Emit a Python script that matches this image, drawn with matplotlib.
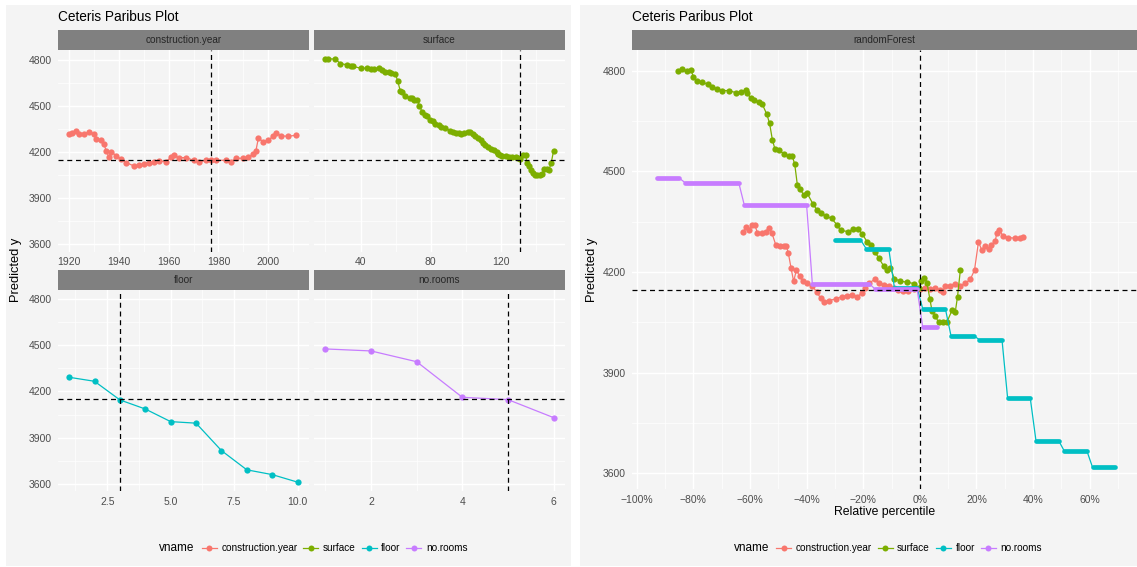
import matplotlib
matplotlib.use('Agg')
import matplotlib.pyplot as plt
from matplotlib.patches import Rectangle
from matplotlib.lines import Line2D
import numpy as np

plt.rcParams['font.family'] = ['Liberation Sans', 'DejaVu Sans']

# ---- data ----
vnames = ['construction.year', 'surface', 'floor', 'no.rooms']
colors = ['#F8766D', '#7CAE00', '#00BFC4', '#C77CFF']

pred_y = 4148
obs = {'construction.year': 1977, 'surface': 131, 'floor': 3, 'no.rooms': 5}

cy_x = [1920, 1921, 1923, 1924, 1926, 1928, 1930, 1931, 1933, 1934, 1935, 1936, 1937,
        1939, 1941, 1943, 1946, 1948, 1950, 1952, 1954, 1956, 1959, 1961, 1962, 1964,
        1967, 1970, 1972, 1975, 1977, 1979, 1983, 1985, 1987, 1990, 1992, 1994, 1995,
        1996, 1998, 2000, 2002, 2003, 2005, 2008, 2011]
cy_y = [4315, 4326, 4336, 4315, 4315, 4330, 4315, 4282, 4276, 4250, 4206, 4167, 4202,
        4174, 4152, 4131, 4109, 4115, 4120, 4131, 4135, 4141, 4137, 4167, 4178, 4163,
        4163, 4146, 4135, 4146, 4150, 4146, 4146, 4135, 4159, 4159, 4167, 4185, 4206,
        4289, 4267, 4276, 4304, 4326, 4304, 4302, 4308]

surf_x = [20, 21.5, 25.7, 28.5, 32.2, 34.3, 36, 40, 43.6, 45.7, 47.4, 50.5, 52.5, 54.1,
          56, 57.5, 59.8, 61.2, 62.6, 63.5, 65.5, 68, 69.4, 70.7, 72.2, 73.6, 75, 76.5,
          78, 79.6, 81.4, 82.5, 84.6, 86, 88.4, 91, 92.5, 94.5, 96, 97.5, 99, 101.3,
          102.3, 104, 105.5, 107, 108.4, 109.8, 111.2, 112.7, 114.1, 115.8, 117.5,
          118.3, 119.5, 120.8, 123, 124.6, 126.5, 128.4, 130, 131, 132.7, 134.1, 134.8,
          136, 137.2, 138.5, 139.5, 140.8, 142, 143.6, 144.5, 146, 147.4, 148.6, 150]
surf_y = [4803, 4805, 4803, 4774, 4766, 4759, 4755, 4744, 4744, 4738, 4737, 4742, 4729,
          4722, 4716, 4711, 4709, 4660, 4599, 4588, 4562, 4552, 4549, 4536, 4540, 4500,
          4462, 4441, 4434, 4405, 4400, 4380, 4375, 4365, 4358, 4338, 4328, 4322, 4321,
          4319, 4321, 4330, 4332, 4318, 4305, 4292, 4278, 4255, 4245, 4232, 4220, 4210,
          4200, 4185, 4178, 4174, 4175, 4170, 4168, 4165, 4160, 4152, 4181, 4180, 4130,
          4110, 4080, 4062, 4052, 4048, 4050, 4056, 4090, 4088, 4085, 4127, 4207]

floor_x = [1, 2, 3, 4, 5, 6, 7, 8, 9, 10]
floor_y = [4292, 4266, 4145, 4086, 4004, 3994, 3816, 3691, 3660, 3611]

rooms_x = [1, 2, 3, 4, 5, 6]
rooms_y = [4476, 4463, 4393, 4162, 4147, 4030]

# right plot: relative percentile
cy_pct = [-62.4, -61.3, -60.4, -59.3, -58.3, -57.4, -55.7, -54.5, -53.4, -52.3, -50.9,
          -49.5, -48, -47.2, -46.5, -45.5, -44.6, -43.6, -42.5, -41.2, -39.8, -38, -36.3,
          -35.1, -33.9, -32.2, -29.8, -27.5, -25.7, -24, -22.2, -20.4, -19.4, -18, -16,
          -14.5, -12.8, -11, -9.3, -7.6, -5.8, -4.1, -2.2, 0.1, 1.8, 3.6, 5.4, 7.1, 8.1,
          9, 10.7, 12.5, 14.3, 16, 17.8, 19.3, 20.7, 21.9, 23.1, 24.3, 25.3, 26.6, 27.2,
          28.1, 29.3, 31.2, 33.6, 35.3, 36.5]
cy_pct_y = [4319, 4335, 4326, 4340, 4341, 4317, 4316, 4320, 4331, 4317, 4281, 4279, 4279,
            4278, 4258, 4212, 4172, 4207, 4187, 4172, 4167, 4158, 4140, 4122, 4112, 4115,
            4120, 4127, 4130, 4133, 4127, 4137, 4152, 4167, 4178, 4167, 4163, 4160, 4152,
            4147, 4145, 4143, 4150, 4150, 4152, 4150, 4152, 4146, 4140, 4160, 4160, 4166,
            4158, 4167, 4178, 4206, 4290, 4265, 4279, 4269, 4282, 4292, 4317, 4325, 4309,
            4303, 4301, 4302, 4305]

surf_pct = [-85.3, -83.9, -82.4, -80.9, -80.0, -78.6, -76.8, -75.0, -73.3, -71.5, -69.8,
            -67.4, -65.1, -63.3, -61.5, -60.9, -59.8, -58.6, -56.9, -55.7, -54.1, -53.1,
            -52.1, -51.2, -49.9, -48.0, -46.3, -45.1, -44.2, -43.3, -42.3, -41.1, -39.8,
            -37.7, -36.4, -34.8, -33.0, -31.2, -29.3, -28.0, -25.4, -23.6, -21.8, -20.4,
            -18.6, -17.3, -16.0, -14.5, -12.8, -11.6, -10.4, -9.0, -6.9, -4.5, -2.2, -0.4,
            0.5, 1.6, 2.5, 3.5, 4.3, 5.5, 6.6, 8.2, 9.6, 11.4, 12.5, 13.3, 14.3]
surf_pct_y = [4800, 4805, 4798, 4803, 4782, 4769, 4766, 4760, 4752, 4745, 4741, 4741, 4735,
              4737, 4743, 4733, 4718, 4713, 4708, 4701, 4671, 4644, 4594, 4567, 4563, 4553,
              4545, 4547, 4521, 4461, 4447, 4431, 4435, 4402, 4386, 4375, 4366, 4360, 4341,
              4324, 4321, 4327, 4328, 4314, 4290, 4280, 4261, 4242, 4218, 4206, 4213, 4180,
              4173, 4170, 4166, 4154, 4173, 4183, 4169, 4121, 4084, 4069, 4050, 4050, 4052,
              4087, 4081, 4127, 4206]

# step series: constant level between first and last percentile
floor_lvl = [4297, 4270, 4154, 4091, 4010, 3999, 3824, 3698, 3667, 3618]
floor_from = [-30, -19, -9, 1, 11, 21, 31, 41, 51, 61]
floor_to = [-21, -11, -1, 9, 19, 29, 39, 49, 59, 69]

rooms_lvl = [4480, 4467, 4399, 4166, 4151, 4036]
rooms_from = [-93, -83, -62, -38, -16, 1]
rooms_to = [-85, -64, -40, -18, -1, 6]

# ---- styling ----
W, H = 1137, 567
BG = '#f4f4f4'
STRIP = '#808080'
YLIM = (3553.5, 4862)
YMAJ = [3600, 3900, 4200, 4500, 4800]
YMIN = [3750, 4050, 4350, 4650]
DASH = (0, (4, 3))

fig = plt.figure(figsize=(W / 100, H / 100), dpi=100)


def rect(x0, y0, x1, y1):
    return [x0 / W, 1 - y1 / H, (x1 - x0) / W, (y1 - y0) / H]


def fig_rect(x0, y0, x1, y1, color):
    fig.add_artist(Rectangle((x0 / W, 1 - y1 / H), (x1 - x0) / W, (y1 - y0) / H,
                             transform=fig.transFigure, color=color, lw=0, zorder=0))


def strip(x0, y0, x1, y1, label):
    fig_rect(x0, y0, x1, y1, STRIP)
    fig.text((x0 + x1) / 2 / W, 1 - (y0 + y1) / 2 / H, label, ha='center', va='center',
             fontsize=7.2, color='#262626')


def style(ax, xlim, xmaj, xmin, xlabels, show_y=True):
    ax.set_facecolor(BG)
    for s in ax.spines.values():
        s.set_visible(False)
    ax.set_xlim(xlim)
    ax.set_ylim(YLIM)
    ax.set_xticks(xmaj)
    ax.set_xticklabels(xlabels)
    ax.set_xticks(xmin, minor=True)
    ax.set_yticks(YMAJ)
    ax.set_yticks(YMIN, minor=True)
    ax.grid(which='major', color='white', lw=1.0)
    ax.grid(which='minor', color='white', lw=0.5)
    ax.set_axisbelow(True)
    ax.tick_params(which='both', length=0, labelsize=7.5, labelcolor='#4d4d4d', pad=4)
    if not show_y:
        ax.tick_params(labelleft=False)


def series(ax, x, y, c):
    ax.plot(x, y, '-', color=c, lw=0.9, zorder=3)
    ax.plot(x, y, 'o', color=c, ms=4.5, mew=0, zorder=3)


def steps(ax, lvl, a, b, c):
    xs = np.column_stack([a, b]).ravel()
    ys = np.repeat(lvl, 2)
    ax.plot(xs, ys, '-', color=c, lw=0.9, zorder=3)
    for v, x0, x1 in zip(lvl, a, b):
        ax.plot([x0, x1], [v, v], '-', color=c, lw=3.4, solid_capstyle='round', zorder=3)


def guides(ax, xv):
    ax.axhline(pred_y, color='black', lw=0.9, ls=DASH, zorder=5)
    ax.axvline(xv, color='black', lw=0.9, ls=DASH, zorder=5)


# backgrounds
fig_rect(6, 5, 570.7, 566, BG)
fig_rect(580, 5, 1137, 566, BG)

# ---- left: faceted plot ----
ax1 = fig.add_axes(rect(57.7, 50, 309, 251.5))
style(ax1, (1915.46, 2016.33), [1920, 1940, 1960, 1980, 2000], [1930, 1950, 1970, 1990, 2010],
      ['1920', '1940', '1960', '1980', '2000'])
series(ax1, cy_x, cy_y, colors[0])
guides(ax1, obs['construction.year'])

ax2 = fig.add_axes(rect(314, 50, 565, 251.5))
style(ax2, (13.5, 156.5), [40, 80, 120], [20, 60, 100, 140], ['40', '80', '120'], show_y=False)
series(ax2, surf_x, surf_y, colors[1])
guides(ax2, obs['surface'])

ax3 = fig.add_axes(rect(57.7, 289.5, 309, 491))
style(ax3, (0.55, 10.45), [2.5, 5.0, 7.5, 10.0], [1.25, 3.75, 6.25, 8.75],
      ['2.5', '5.0', '7.5', '10.0'])
series(ax3, floor_x, floor_y, colors[2])
guides(ax3, obs['floor'])

ax4 = fig.add_axes(rect(314, 289.5, 565, 491))
style(ax4, (0.75, 6.25), [2, 4, 6], [1, 3, 5], ['2', '4', '6'], show_y=False)
series(ax4, rooms_x, rooms_y, colors[3])
guides(ax4, obs['no.rooms'])

strip(57.7, 30, 309, 50, 'construction.year')
strip(314, 30, 565, 50, 'surface')
strip(57.7, 270, 309, 289.5, 'floor')
strip(314, 270, 565, 289.5, 'no.rooms')

fig.text(58 / W, 1 - 17 / H, 'Ceteris Paribus Plot', fontsize=9.8, ha='left', va='center')
fig.text(16 / W, 1 - 270 / H, 'Predicted y', fontsize=9.3, rotation=90, ha='center', va='center')

# ---- right: relative percentile plot ----
ax5 = fig.add_axes(rect(631.7, 50, 1137, 489))
pct_ticks = [-100, -80, -60, -40, -20, 0, 20, 40, 60]
style(ax5, (-101.8, 76.7), pct_ticks, [-90, -70, -50, -30, -10, 10, 30, 50, 70],
      [('\u2212%d%%' % -t) if t < 0 else '%d%%' % t for t in pct_ticks])
series(ax5, cy_pct, cy_pct_y, colors[0])
series(ax5, surf_pct, surf_pct_y, colors[1])
steps(ax5, floor_lvl, floor_from, floor_to, colors[2])
steps(ax5, rooms_lvl, rooms_from, rooms_to, colors[3])
guides(ax5, 0)

strip(631.7, 30, 1137, 50, 'randomForest')
fig.text(632 / W, 1 - 17 / H, 'Ceteris Paribus Plot', fontsize=9.8, ha='left', va='center')
fig.text(592 / W, 1 - 270 / H, 'Predicted y', fontsize=9.3, rotation=90, ha='center', va='center')
fig.text(885 / W, 1 - 512 / H, 'Relative percentile', fontsize=8.8, ha='center', va='center')

# ---- legends ----
handles = [Line2D([], [], color=c, lw=0.9, marker='o', ms=4.3, mew=0) for c in colors]
for lx, tx in [(201.7, 194), (776, 769)]:
    fig.text(tx / W, 1 - 548 / H, 'vname', fontsize=8.5, ha='right', va='center')
    fig.legend(handles, vnames, loc='center left', bbox_to_anchor=(lx / W, 1 - 548 / H),
               ncol=4, frameon=False, fontsize=7.2, handlelength=1.5, handletextpad=0.45,
               columnspacing=0.6, borderpad=0, borderaxespad=0)

fig.savefig('out.png', dpi=100, facecolor='white')
